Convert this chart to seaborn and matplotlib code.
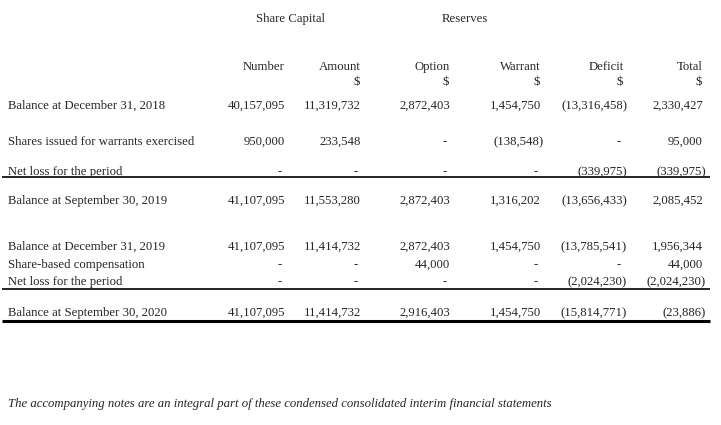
import matplotlib
matplotlib.use("Agg")
import matplotlib.pyplot as plt
import seaborn as sns

# Statement of changes in equity
group_headers = ["Share Capital", "Reserves"]
col_headers = ["Number", "Amount", "Option", "Warrant", "Deficit", "Total"]
col_units = ["", "$", "$", "$", "$", "$"]

row_labels = [
    "Balance at December 31, 2018",
    "Shares issued for warrants exercised",
    "Net loss for the period",
    "Balance at September 30, 2019",
    "Balance at December 31, 2019",
    "Share-based compensation",
    "Net loss for the period",
    "Balance at September 30, 2020",
]
number = ["40,157,095", "950,000", "-", "41,107,095", "41,107,095", "-", "-", "41,107,095"]
amount = ["11,319,732", "233,548", "-", "11,553,280", "11,414,732", "-", "-", "11,414,732"]
option = ["2,872,403", "-", "-", "2,872,403", "2,872,403", "44,000", "-", "2,916,403"]
warrant = ["1,454,750", "(138,548)", "-", "1,316,202", "1,454,750", "-", "-", "1,454,750"]
deficit = ["(13,316,458)", "-", "(339,975)", "(13,656,433)", "(13,785,541)", "-",
           "(2,024,230)", "(15,814,771)"]
total = ["2,330,427", "95,000", "(339,975)", "2,085,452", "1,956,344", "44,000",
         "(2,024,230)", "(23,886)"]
footnote = "The accompanying notes are an integral part of these condensed consolidated interim financial statements"

# layout (pixel coordinates of the page, baselines)
row_y = [109, 145, 175, 204, 250, 268, 285, 316]
col_right = [285, 361, 450, 541, 624, 703]
group_x = [291, 465]

sns.set_theme(style="white")
plt.rcParams["font.family"] = ["Liberation Serif", "DejaVu Serif"]

fig = plt.figure(figsize=(7.21, 4.25), dpi=100)
ax = fig.add_axes([0, 0, 1, 1])
ax.set_xlim(0, 721)
ax.set_ylim(425, 0)
ax.axis("off")

fs = 9.2
for gx, g in zip(group_x, group_headers):
    ax.text(gx, 22, g, ha="center", va="baseline", fontsize=fs)

for cx, h, u in zip(col_right, col_headers, col_units):
    ax.text(cx, 70, h, ha="right", va="baseline", fontsize=fs)
    if u:
        ax.text(cx - 1, 85, u, ha="right", va="baseline", fontsize=fs)

for y, lab in zip(row_y, row_labels):
    ax.text(8, y, lab, ha="left", va="baseline", fontsize=fs)

columns = [number, amount, option, warrant, deficit, total]
for cx, col in zip(col_right, columns):
    for y, v in zip(row_y, col):
        x = cx
        if v.startswith("("):
            x = cx + 3
        elif v == "-":
            x = cx - 3
        ax.text(x, y, v, ha="right", va="baseline", fontsize=fs)

# rules under the sub-totals
ax.hlines([177, 289], 2, 710, color="black", lw=1.2)
ax.hlines(321, 2, 710, color="black", lw=2.2)

ax.text(8, 407, footnote, ha="left", va="baseline", fontsize=fs, style="italic")

plt.savefig("out.png", dpi=100)
plt.close()
